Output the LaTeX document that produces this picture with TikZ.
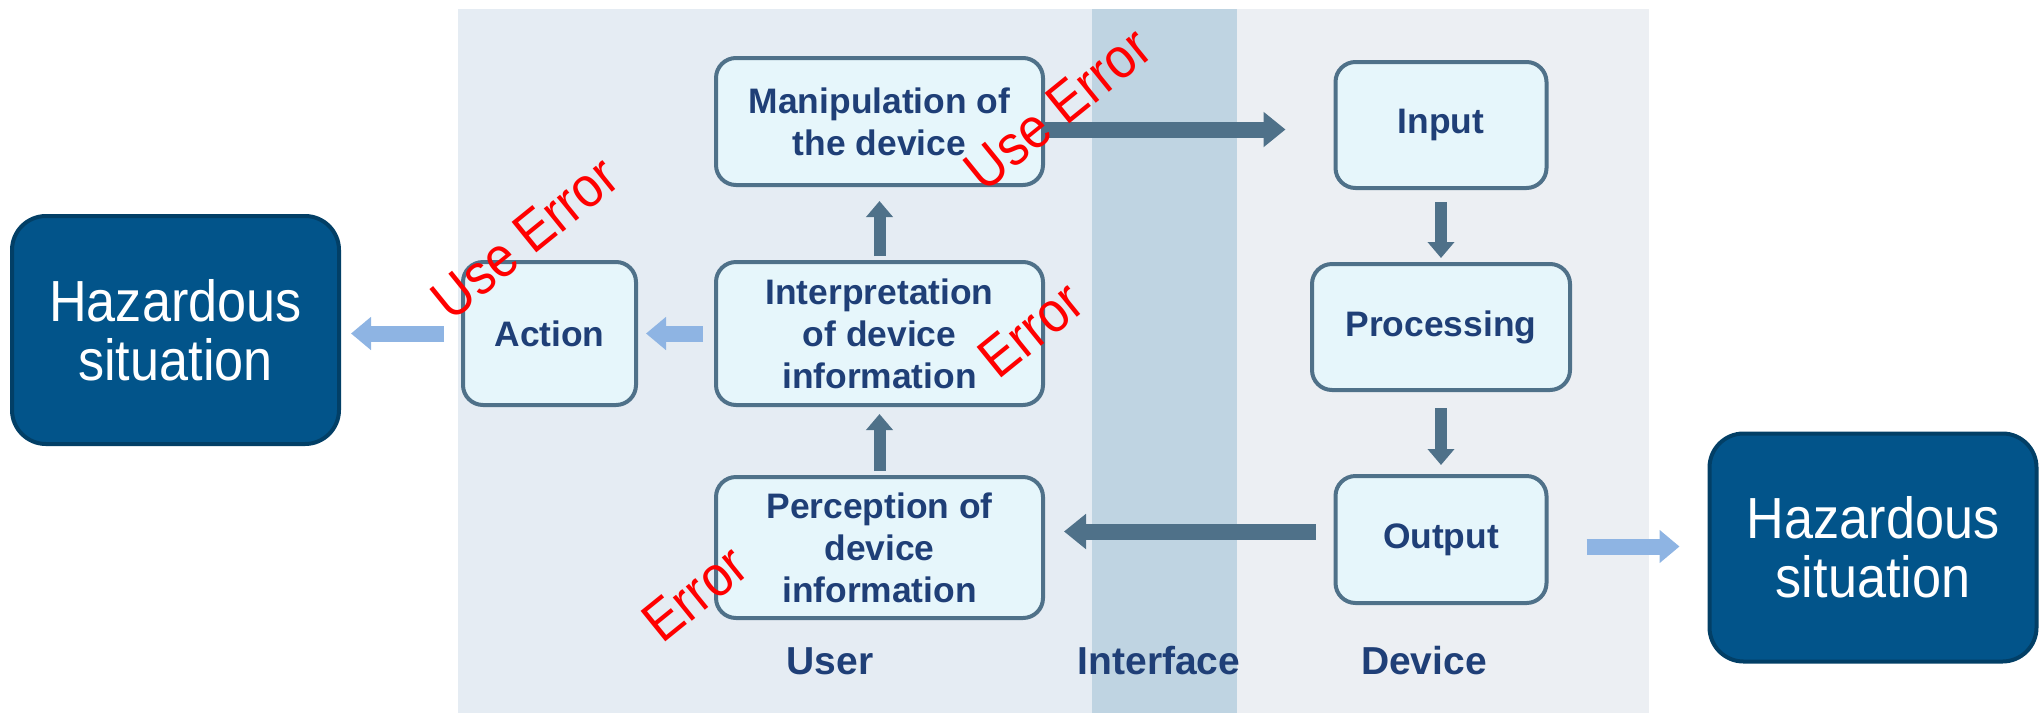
\documentclass[tikz,border=0pt]{standalone}
\usepackage{fontspec}
\setmainfont{Liberation Sans}
\newfontfamily\narrowfont{Liberation Sans}[FakeStretch=0.9]
\usetikzlibrary{arrows.meta,positioning}
\definecolor{userbg}{HTML}{E5ECF3}
\definecolor{ifacebg}{HTML}{BFD4E2}
\definecolor{devbg}{HTML}{ECEFF3}
\definecolor{boxfill}{HTML}{E6F6FB}
\definecolor{boxline}{HTML}{4F7189}
\definecolor{boxtext}{HTML}{1F3F77}
\definecolor{hazfill}{HTML}{02548A}
\definecolor{hazline}{HTML}{023F66}
\definecolor{lightarrow}{HTML}{8EB4E3}
\tikzset{
  stage/.style={draw=boxline, fill=boxfill, line width=2pt, rounded corners=10pt, text=boxtext,
    font=\bfseries\fontsize{17.7}{21}\selectfont, align=center, inner sep=0pt},
  hazard/.style={draw=hazline, fill=hazfill, line width=2pt, rounded corners=17pt, text=white,
    font=\narrowfont\fontsize{29}{29.5}\selectfont, align=center, minimum width=163.5pt, minimum height=114pt},
  flow/.style={draw=boxline, line width=8pt, -{Triangle[width=17pt,length=11pt]}},
  flowthin/.style={draw=boxline, line width=6pt, -{Triangle[width=13pt,length=8pt]}},
  hazflow/.style={draw=lightarrow, line width=8pt, -{Triangle[width=16pt,length=10pt]}},
  zone/.style={text=boxtext, font=\bfseries\fontsize{19.5}{22}\selectfont},
  fault/.style={text=red, font=\narrowfont\fontsize{28.5}{30}\selectfont, rotate=39}
}

\begin{document}
\begin{tikzpicture}[x=0.5pt, y=-0.5pt]
			\useasboundingbox (0,0) rectangle (2044,713);
			% lanes
			\fill[userbg] (458,9) rectangle (1092,713);
			\fill[ifacebg] (1092,9) rectangle (1237,713);
			\fill[devbg] (1237,9) rectangle (1649,713);
			% user side
			\node[hazard] (hazl) at (175.5,330) {Hazardous\\situation};
			\node[stage, minimum width=86.5pt, minimum height=71.5pt] (action) at (549.5,333.5) {Action};
			\node[stage, minimum width=163.5pt, minimum height=63.5pt] (manip) at (879.5,121.5) {Manipulation of\\the device};
			\node[stage, minimum width=163.5pt, minimum height=71.5pt] (interp) at (879.5,333.5) {Interpretation\\of device\\information};
			\node[stage, minimum width=163.5pt, minimum height=70.5pt] (percep) at (879.5,547.5) {Perception of\\device\\information};
			% device side
			\node[stage, minimum width=105.5pt, minimum height=63pt] (input) at (1441,125) {Input};
			\node[stage, minimum width=129pt, minimum height=63pt] (proc) at (1441,327) {Processing};
			\node[stage, minimum width=105.5pt, minimum height=63.5pt] (output) at (1441,539.5) {Output};
			\node[hazard] (hazr) at (1873,547.5) {Hazardous\\situation};
			% lane names
			\node[zone] (user) at (830,661) {User};
			\node[zone] (iface) at (1159,661) {Interface};
			\node[zone] (dev) at (1424,661) {Device};
			% arrows
			\draw[flow, shorten >=24pt] ([yshift=-4pt]manip.east) -- ([yshift=-4pt]manip.east -| input.west);
			\draw[flowthin, shorten <=2pt, shorten >=7pt] (interp.north) -- (manip.south);
			\draw[flowthin, shorten <=2pt, shorten >=3.5pt] (percep.north) -- (interp.south);
			\draw[flow, shorten <=9pt, shorten >=9.5pt] ([yshift=4pt]output.west) -- ([yshift=4pt]output.west -| percep.east);
			\draw[flowthin, shorten <=6pt, shorten >=2pt] (input.south) -- (proc.north);
			\draw[flowthin, shorten <=8pt, shorten >=4.5pt] (proc.south) -- (output.north);
			\draw[hazflow, shorten <=5.5pt, shorten >=4pt] (interp.west) -- (action.east);
			\draw[hazflow, shorten <=8.5pt, shorten >=5pt] (action.west) -- (action.west -| hazl.east);
			\draw[hazflow, shorten <=19pt, shorten >=14pt] ([yshift=-3.5pt]output.east) -- ([yshift=-3.5pt]output.east -| hazr.west);
			% errors
			\node[fault] (ue1) at (1058,109) {Use Error};
			\node[fault] (ue2) at (525,238) {Use Error};
			\node[fault] (e1) at (1031,330) {Error};
			\node[fault] (e2) at (695,594) {Error};
		\end{tikzpicture}
\end{document}
